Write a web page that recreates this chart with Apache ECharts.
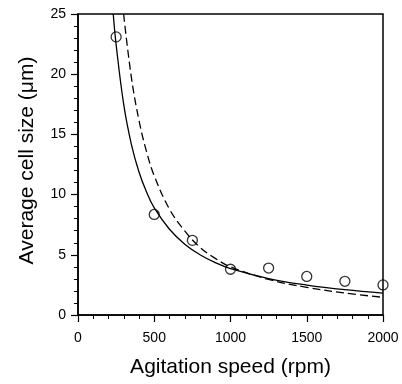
<!DOCTYPE html>
<html>
<head>
<meta charset="utf-8">
<script src="https://cdn.jsdelivr.net/npm/echarts@6/dist/echarts.min.js"></script>
<style>
  html, body { margin: 0; padding: 0; background: #fff; }
  #chart { width: 402px; height: 384px; }
</style>
</head>
<body>
<div id="chart"></div>
<script>
// Measured data points (open circles)
const speeds = [250, 500, 750, 1000, 1250, 1500, 1750, 2000];
const cellSize = [23.1, 8.35, 6.2, 3.8, 3.9, 3.2, 2.8, 2.5];

// Solid fitted curve
const solidX = [231, 250, 300, 350, 400, 450, 500, 600, 700, 800, 900, 1000, 1250, 1500, 1750, 2000];
const solidY = [25, 22.46, 17.47, 14.18, 11.88, 10.19, 8.89, 7.12, 5.88, 5.0, 4.35, 3.85, 3.03, 2.49, 2.10, 1.82];

// Dashed fitted curve
const dashedX = [299, 350, 400, 450, 500, 600, 700, 800, 900, 1000, 1250, 1500, 1750, 2000];
const dashedY = [25, 19.74, 16.16, 13.54, 11.56, 8.79, 6.98, 5.62, 4.7, 4.0, 2.95, 2.3, 1.82, 1.47];

// Axis settings
const xTicks = { min: 0, max: 2000, interval: 500 };
const yTicks = { min: 0, max: 25, interval: 5 };
const xTitle = 'Agitation speed (rpm)';
const yTitle = 'Average cell size (\u03bcm)';

const zip = (xs, ys) => xs.map((x, i) => [x, ys[i]]);

const font = 'Liberation Sans, Arial, Helvetica, sans-serif';
const chart = echarts.init(document.getElementById('chart'), null, { renderer: 'canvas' });

const axisCommon = {
  type: 'value',
  splitLine: { show: false },
  axisLine: { show: true, onZero: false, lineStyle: { color: '#000', width: 1.5 } },
  axisTick: { show: true, inside: false, length: 7, lineStyle: { color: '#000', width: 1.2 } },
  minorTick: { show: true, splitNumber: 5, length: 4, lineStyle: { color: '#000', width: 1 } },
  minorSplitLine: { show: false },
  nameLocation: 'middle',
  nameTextStyle: { color: '#000', fontFamily: font, fontSize: 21 }
};

chart.setOption({
  animation: false,
  backgroundColor: '#fff',
  grid: {
    left: 78, right: 19, top: 14, bottom: 69,
    show: true, borderColor: '#000', borderWidth: 1.5, backgroundColor: 'transparent'
  },
  xAxis: Object.assign({}, axisCommon, {
    min: xTicks.min, max: xTicks.max, interval: xTicks.interval,
    name: xTitle, nameGap: 42,
    axisLabel: { color: '#000', fontFamily: font, fontSize: 14, margin: 16, formatter: v => String(v) }
  }),
  yAxis: Object.assign({}, axisCommon, {
    min: yTicks.min, max: yTicks.max, interval: yTicks.interval,
    name: yTitle, nameGap: 40, nameTextStyle: { color: '#000', fontFamily: font, fontSize: 21, padding: [0, 0, 0, 8] },
    axisLabel: { color: '#000', fontFamily: font, fontSize: 14, margin: 12, formatter: v => String(v) }
  }),
  series: [
    {
      type: 'line',
      data: zip(solidX, solidY),
      smooth: 0.4,
      showSymbol: false,
      clip: true,
      lineStyle: { color: '#000', width: 1.3 },
      z: 2
    },
    {
      type: 'line',
      data: zip(dashedX, dashedY),
      smooth: 0.4,
      showSymbol: false,
      clip: true,
      lineStyle: { color: '#000', width: 1.3, type: [8, 4] },
      z: 2
    },
    {
      type: 'scatter',
      data: zip(speeds, cellSize),
      symbol: 'circle',
      symbolSize: 10,
      clip: false,
      itemStyle: { color: 'rgba(255,255,255,0)', borderColor: '#000', borderWidth: 1.3 },
      z: 3
    }
  ]
});
</script>
</body>
</html>
